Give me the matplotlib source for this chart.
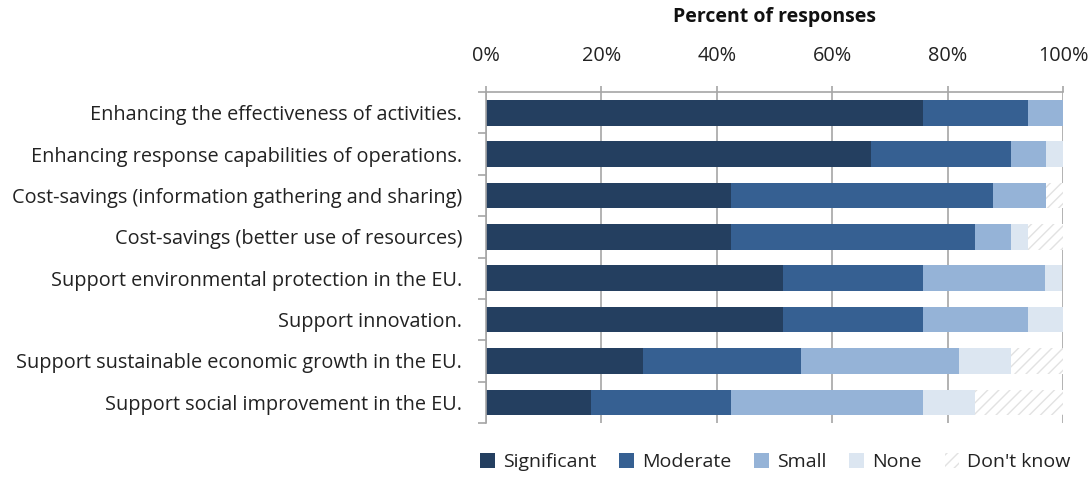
import numpy as np
import matplotlib.pyplot as plt

plt.rcParams['font.family'] = ['Open Sans', 'DejaVu Sans']
plt.rcParams['hatch.linewidth'] = 1.0

categories = [
    "Enhancing the effectiveness of activities.",
    "Enhancing response capabilities of operations.",
    "Cost-savings (information gathering and sharing)",
    "Cost-savings (better use of resources)",
    "Support environmental protection in the EU.",
    "Support innovation.",
    "Support sustainable economic growth in the EU.",
    "Support social improvement in the EU.",
]
significant = [75.8, 66.7, 42.4, 42.4, 51.5, 51.5, 27.3, 18.2]
moderate = [18.2, 24.2, 45.5, 42.4, 24.2, 24.2, 27.3, 24.2]
small = [6.1, 6.1, 9.1, 6.1, 21.2, 18.2, 27.3, 33.3]
none_ = [0.0, 3.0, 0.0, 3.0, 3.0, 6.1, 9.1, 9.1]
dont_know = [0.0, 0.0, 3.0, 6.1, 0.0, 0.0, 9.1, 15.2]

series = [("Significant", significant, "#243f60"),
          ("Moderate", moderate, "#366092"),
          ("Small", small, "#95b3d7"),
          ("None", none_, "#dce6f1")]

txt = "#222222"
grey = "#a6a6a6"

fig = plt.figure(figsize=(10.92, 4.78), dpi=100)
ax = fig.add_axes([0.445, 0.115, 0.5285, 0.6925])

y = np.arange(len(categories))
left = np.zeros(len(categories))
for name, vals, col in series:
    ax.barh(y, vals, left=left, height=0.62, color=col, label=name, zorder=2)
    left += np.array(vals)
ax.barh(y, dont_know, left=left, height=0.62, facecolor="white",
        edgecolor="#e2e2e2", hatch="///", linewidth=0, label="Don't know", zorder=2)

ax.set_xlim(0, 100)
ax.set_ylim(len(categories) - 0.5, -0.5)
ax.set_yticks(y)
ax.set_yticklabels(categories, fontsize=14.3, color=txt)
ax.set_yticks(np.arange(len(categories) + 1) - 0.5, minor=True)
ax.tick_params(axis="y", which="major", length=0, pad=17)
ax.tick_params(axis="y", which="minor", length=6, color=grey, width=1.2)

ax.xaxis.tick_top()
ax.set_xticks(np.arange(0, 101, 20))
ax.set_xticklabels([f"{v}%" for v in range(0, 101, 20)], fontsize=14.3, color=txt)
ax.tick_params(axis="x", length=4, width=1.2, color=grey, pad=15)
ax.xaxis.set_label_position("top")
ax.set_xlabel("Percent of responses", fontsize=14, fontweight="bold",
              color="#111111", labelpad=17)
ax.grid(axis="x", color=grey, linewidth=1.2, zorder=0)
ax.set_axisbelow(True)

for s in ["right", "bottom"]:
    ax.spines[s].set_visible(False)
for s in ["top", "left"]:
    ax.spines[s].set_color(grey)
    ax.spines[s].set_linewidth(1.2)

fig.legend(loc="center", bbox_to_anchor=(0.71, 0.033), ncol=5, frameon=False,
           fontsize=14, handlelength=0.75, handleheight=0.75, handletextpad=0.4,
           columnspacing=1.2, labelcolor=txt)

fig.savefig("out.png", dpi=100)
